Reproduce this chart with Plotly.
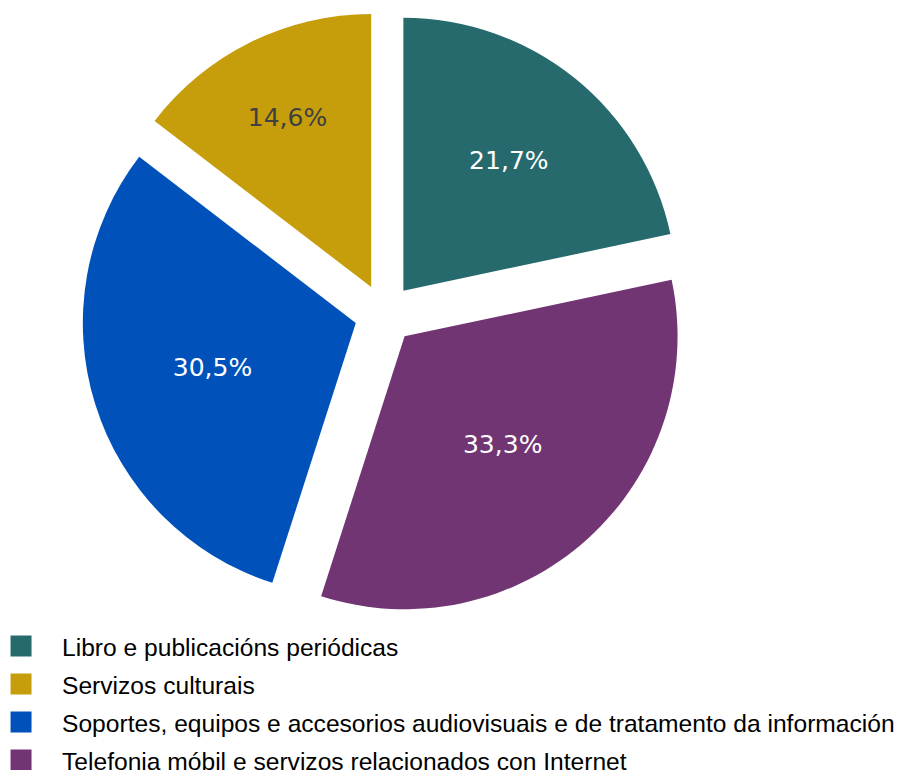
import plotly.graph_objects as go

labels = [
    "Libro e publicacións periódicas",
    "Servizos culturais",
    "Soportes, equipos e accesorios audiovisuais e de tratamento da información",
    "Telefonia móbil e servizos relacionados con Internet",
]
values = [21.7, 14.6, 30.5, 33.3]
value_text = ["21,7%", "14,6%", "30,5%", "33,3%"]
colors = ["#276A6E", "#C69E0C", "#0052BA", "#713574"]
text_colors = ["#FFFFFF", "#404040", "#FFFFFF", "#FFFFFF"]

fig = go.Figure()
fig.add_trace(go.Pie(
    labels=labels,
    values=values,
    text=value_text,
    textinfo="text",
    sort=False,
    direction="counterclockwise",
    rotation=0,
    pull=0.11,
    marker=dict(colors=colors, line=dict(width=0)),
    textposition="inside",
    insidetextorientation="horizontal",
    insidetextfont=dict(family="DejaVu Sans", size=25, color=text_colors),
    showlegend=False,
    domain=dict(x=[0.0809, 0.7483], y=[0.2099, 1.0]),
    hoverinfo="label+text",
))

for lab, col in zip(labels, colors):
    fig.add_trace(go.Scatter(
        x=[None], y=[None], mode="markers", name=lab, legendgroup=lab,
        marker=dict(symbol="square", size=16, color=col, line=dict(color=col, width=5)),
        hoverinfo="skip",
    ))

fig.update_layout(
    width=908, height=770,
    margin=dict(l=0, r=0, t=3, b=0, autoexpand=False),
    paper_bgcolor="white", plot_bgcolor="white",
    xaxis=dict(visible=False), yaxis=dict(visible=False),
    legend=dict(
        x=-0.0308, xanchor="left", y=0.2014, yanchor="top",
        font=dict(family="Liberation Sans", size=24.6, color="#000000"),
        itemwidth=72, tracegroupgap=3, traceorder="grouped",
        bgcolor="rgba(0,0,0,0)",
    ),
)

fig.write_html("out.html")
